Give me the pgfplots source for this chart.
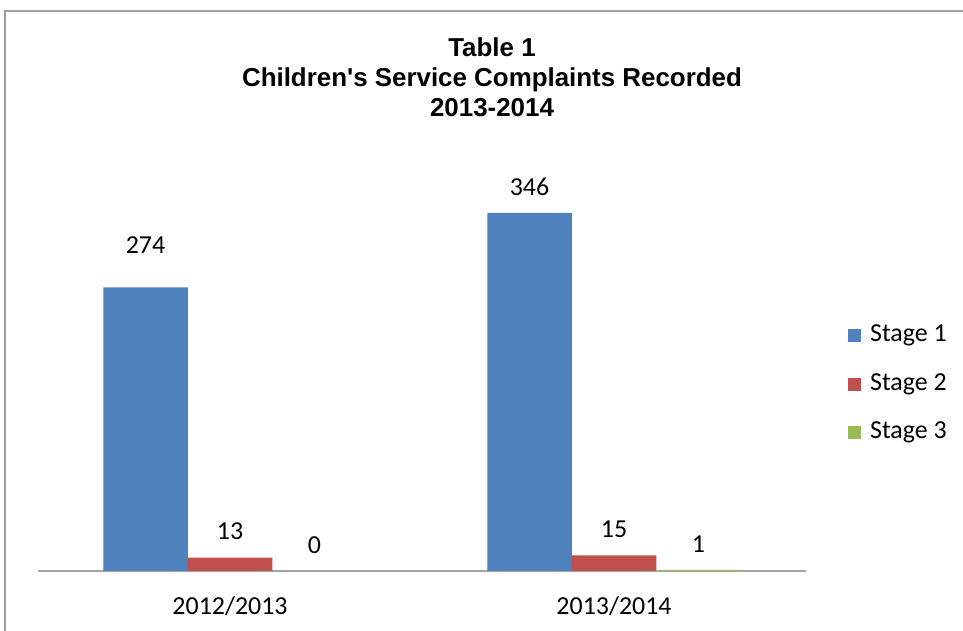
\documentclass[border=0pt]{standalone}
\usepackage{pgfplots}
\pgfplotsset{compat=1.18}
\usepackage{pgfplotstable}
\usepackage{fontspec}
\setmainfont{Carlito}
\newfontfamily\arialfont{Liberation Sans}
\definecolor{sone}{HTML}{4F81BD}
\definecolor{stwo}{HTML}{C0504D}
\definecolor{sthree}{HTML}{9BBB59}
\definecolor{framegray}{HTML}{A0A0A0}
\definecolor{axgray}{HTML}{A6A6A6}

\pgfplotstableread{
x y off
0 274 42
1 346 26
}\stageone
\pgfplotstableread{
x y off
0 13 26
1 15 26
}\stagetwo
\pgfplotstableread{
x y off
0 0 26
1 1 26
}\stagethree

\begin{document}
\begin{tikzpicture}[x=1bp,y=1bp]
\useasboundingbox (0,0) rectangle (963,631);
\draw[color=framegray, line width=1.5bp] (5,-20) -- (5,620) -- (990,620);
\node[font=\arialfont\bfseries\fontsize{26}{30}\selectfont, align=center] at (492,554) {Table 1\\Children's Service Complaints Recorded\\2013-2014};
\begin{axis}[at={(38bp,60bp)}, anchor=south west, scale only axis,
  width=768bp, height=414bp,
  ybar=0pt, bar width=84.5bp,
  xmin=-0.5, xmax=1.5, ymin=0, ymax=400,
  axis x line=bottom, axis y line=none,
  x axis line style={-, color=axgray, line width=2bp},
  xtick={0,1}, xticklabels={2012/2013,2013/2014},
  major tick length=0pt, ytick=\empty,
  /pgf/number format/assume math mode=true,
  xticklabel style={font=\fontsize{26}{30}\selectfont, anchor=center, yshift=-35bp},
  nodes near coords,
  visualization depends on={\thisrow{off} \as \off},
  every node near coord/.append style={font=\fontsize{26}{30}\selectfont, anchor=center, yshift=\off*1bp},
  legend style={draw=none, fill=none, at={(1.0547,0.4505)}, anchor=west, inner sep=0pt,
    font=\fontsize{26}{30}\selectfont, row sep=26.5bp,
    nodes={inner sep=0pt, text height=17bp, text depth=5bp}},
  legend cell align=left,
  /tikz/every even column/.append style={column sep=0pt},
]
\addplot[fill=sone, draw=none, legend image code/.code={\fill[sone] (0bp,-6.5bp) rectangle (13bp,6.5bp); \path (22bp,0);}] table[x=x,y=y] {\stageone};
\addplot[fill=stwo, draw=none, legend image code/.code={\fill[stwo] (0bp,-6.5bp) rectangle (13bp,6.5bp); \path (22bp,0);}] table[x=x,y=y] {\stagetwo};
\addplot[fill=sthree, draw=none, legend image code/.code={\fill[sthree] (0bp,-6.5bp) rectangle (13bp,6.5bp); \path (22bp,0);}] table[x=x,y=y] {\stagethree};
\legend{Stage 1,Stage 2,Stage 3}
\end{axis}
\end{tikzpicture}
\end{document}
